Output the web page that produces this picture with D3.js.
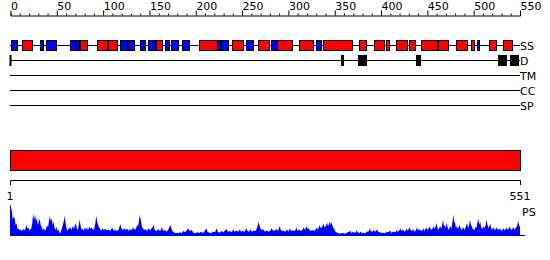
<!DOCTYPE html>
<html><head><meta charset="utf-8">
<script src="https://cdn.jsdelivr.net/npm/d3@7"></script>
<style>body{margin:0;background:#fff}svg{display:block}text{font-family:"DejaVu Sans",sans-serif;font-size:11px;fill:#000}</style>
</head><body><svg id="c" width="550" height="260"></svg>
<script>
const seqLength = 551;
const axisTicks = d3.range(0, 551, 10);
const axisLabels = [0, 50, 100, 150, 200, 250, 300, 350, 400, 450, 500, 550];
// secondary structure: [start, end, type] (H = helix red, E = strand blue)
const ssStart = [2,14,33,40,66,72,77,95,107,120,128,141,150,158,168,175,186,205,224,229,240,256,268,283,289,313,331,339,377,394,406,417,431,444,463,482,498,505,518,533];
const ssEnd   = [9,25,37,51,72,75,84,106,116,127,135,147,157,165,172,182,194,224,227,236,252,263,280,289,305,328,336,370,385,404,410,429,438,461,473,494,501,507,525,542];
const ssType  = ["E","H","E","E","E","E","H","H","H","E","E","E","E","H","E","E","E","H","E","E","H","E","H","E","H","H","E","H","H","H","H","H","H","H","H","H","H","E","H","H"];
// disorder segments
const disStart = [358,376,439,527,540];
const disEnd   = [361,386,444,537,550];
const trackNames = ["SS","D","TM","CC","SP"];
// PS profile: [residue, score]
const psProfile = [[1,92],[2,85],[3,70],[4,45],[5,55],[6,50],[7,30],[8,35],[9,18],[10,20],[11,14],[12,17],[14,12],[15,18],[17,14],[18,22],[19,30],[20,18],[21,22],[22,14],[24,20],[25,35],[26,63],[27,45],[28,60],[29,40],[30,52],[31,30],[33,48],[34,30],[35,25],[36,15],[37,20],[39,12],[41,30],[42,22],[43,40],[44,57],[45,40],[46,50],[47,30],[48,40],[49,22],[50,15],[51,25],[52,12],[53,18],[54,8],[55,5],[56,12],[57,20],[58,30],[59,40],[60,57],[61,35],[62,20],[63,12],[64,18],[66,23],[67,15],[69,27],[70,18],[71,28],[72,35],[73,20],[74,15],[75,25],[76,45],[77,30],[78,15],[79,20],[80,12],[82,22],[83,15],[84,23],[85,14],[87,25],[88,18],[89,22],[91,15],[92,20],[93,35],[94,57],[95,40],[96,30],[97,22],[98,20],[99,12],[101,20],[102,15],[104,18],[105,14],[107,16],[109,12],[110,18],[112,20],[113,12],[115,16],[116,12],[118,15],[120,33],[121,20],[123,15],[124,20],[126,14],[127,20],[129,12],[130,17],[132,14],[134,23],[135,15],[137,20],[138,30],[139,25],[140,40],[141,60],[142,45],[143,30],[144,20],[146,15],[147,18],[149,12],[150,20],[152,15],[154,20],[156,30],[157,15],[159,12],[161,17],[163,12],[165,23],[166,12],[168,15],[170,10],[172,18],[174,30],[175,20],[176,12],[177,10],[179,6],[181,7],[183,5],[184,8],[186,6],[188,12],[190,8],[192,15],[193,20],[195,12],[197,15],[199,6],[201,5],[203,8],[205,6],[207,10],[209,6],[211,12],[213,20],[214,10],[216,7],[218,5],[220,10],[222,8],[224,20],[225,10],[227,7],[229,12],[231,8],[233,14],[235,17],[236,9],[238,12],[240,8],[242,17],[243,10],[245,13],[247,10],[249,17],[250,10],[252,12],[254,10],[256,20],[257,12],[259,10],[260,17],[262,10],[264,13],[266,12],[268,25],[269,40],[270,28],[271,20],[272,15],[274,17],[276,10],[278,13],[280,10],[282,14],[283,20],[285,12],[287,15],[289,17],[290,12],[292,27],[293,15],[295,12],[296,13],[298,10],[300,17],[301,10],[303,20],[304,12],[306,14],[307,12],[309,15],[310,23],[311,12],[313,17],[314,12],[316,14],[318,23],[319,15],[321,27],[322,18],[323,20],[325,12],[327,15],[329,12],[331,18],[332,23],[333,15],[335,30],[336,20],[338,25],[339,35],[340,22],[342,28],[343,37],[344,25],[346,40],[347,30],[348,37],[349,25],[350,20],[352,10],[353,8],[355,5],[357,4],[359,6],[361,5],[363,4],[365,8],[367,10],[368,13],[369,6],[371,10],[373,6],[375,13],[376,8],[378,6],[379,10],[381,5],[382,7],[384,5],[386,10],[388,12],[389,20],[390,12],[392,10],[393,15],[395,10],[397,17],[398,10],[400,8],[402,6],[404,7],[406,5],[407,10],[409,8],[411,13],[412,7],[414,9],[415,10],[417,8],[418,15],[419,10],[421,14],[422,20],[423,12],[425,17],[426,10],[428,14],[429,20],[430,12],[432,23],[433,15],[434,12],[436,17],[437,10],[439,15],[440,23],[441,14],[443,17],[444,12],[446,15],[447,20],[448,12],[450,23],[451,15],[452,18],[454,25],[455,15],[457,20],[458,27],[459,18],[460,25],[461,35],[462,20],[463,15],[465,27],[466,18],[467,30],[468,45],[469,25],[470,30],[471,20],[472,37],[473,22],[474,15],[476,27],[477,18],[478,35],[479,60],[480,40],[481,35],[482,20],[483,27],[484,18],[486,30],[487,20],[488,15],[490,23],[491,15],[492,20],[493,28],[494,35],[495,20],[496,30],[497,45],[498,30],[499,27],[500,18],[502,15],[503,25],[504,20],[505,35],[506,50],[507,30],[508,40],[509,25],[510,18],[512,25],[513,20],[514,30],[515,47],[516,30],[517,20],[519,33],[520,20],[521,15],[522,23],[524,15],[526,23],[527,15],[528,18],[530,17],[531,12],[533,20],[534,15],[536,18],[537,23],[538,15],[540,25],[541,18],[542,15],[544,23],[545,15],[546,20],[547,22],[548,27],[549,42],[550,30],[551,23]];

const svg = d3.select("#c");
const x = d3.scaleLinear().domain([1, seqLength]).range([10, 520]);
const xa = d3.scaleLinear().domain([0, 550]).range([10.5, 520]);

// top axis
const ax = svg.append("g").attr("transform", "translate(0,15.5)")
  .call(d3.axisTop(xa).tickValues(axisTicks).tickSizeOuter(0).tickSize(2).tickFormat(""));
ax.selectAll(".tick line").attr("y2", d => axisLabels.includes(d) ? -5 : -2).attr("stroke", "#000");
ax.select(".domain").attr("stroke", "#000");
ax.selectAll(".tick").filter(d => axisLabels.includes(d)).append("text")
  .attr("x", 0).attr("y", -5.5).attr("text-anchor", "start").text(d => d)
  .style("fill", "#000").style("font-size", "11px").style("font-family", "DejaVu Sans");

// track lines
const trackY = [45.5, 60.5, 75.5, 90.5, 105.5];
svg.selectAll("line.track").data(trackNames).enter().append("line")
  .attr("x1", 10).attr("x2", 520).attr("y1", (d,i) => trackY[i]).attr("y2", (d,i) => trackY[i])
  .attr("stroke", "#000");
svg.selectAll("text.tl").data(trackNames).enter().append("text")
  .attr("x", 520).attr("y", (d,i) => trackY[i] + 4).text(d => d);

// SS boxes
const ss = ssStart.map((s,i) => ({s, e: ssEnd[i], t: ssType[i]}));
svg.selectAll("rect.ss").data(ss).enter().append("rect")
  .attr("x", d => Math.round(x(d.s)) + 0.5).attr("y", 40.5)
  .attr("width", d => Math.max(1, Math.round(x(d.e)) - Math.round(x(d.s))))
  .attr("height", 10)
  .attr("fill", d => d.t === "H" ? "#ff0000" : "#0000ff").attr("stroke", "#000");

// disorder
svg.append("line").attr("x1", 10.5).attr("x2", 10.5).attr("y1", 55).attr("y2", 66).attr("stroke", "#000").attr("stroke-width", 2);
const dis = disStart.map((s,i) => ({s, e: disEnd[i]}));
svg.selectAll("rect.dis").data(dis).enter().append("rect")
  .attr("x", d => Math.round(x(d.s))).attr("y", 55)
  .attr("width", d => Math.round(x(d.e)) - Math.round(x(d.s))).attr("height", 11)
  .attr("fill", "#000");

// big red bar
svg.append("rect").attr("x", x(1) + 0.5).attr("y", 150.5).attr("width", x(seqLength) - x(1)).attr("height", 20)
  .attr("fill", "#ff0000").attr("stroke", "#000");
// bracket
svg.append("path").attr("d", `M${x(1)+0.5},185V180.5H${x(seqLength)+0.5}V185`).attr("fill", "none").attr("stroke", "#000");
svg.append("text").attr("x", x(1)).attr("y", 200).attr("text-anchor", "middle").text("1");
svg.append("text").attr("x", x(seqLength)).attr("y", 200).attr("text-anchor", "middle").text(String(seqLength));
svg.append("text").attr("x", 522).attr("y", 216).text("PS");

// PS area
const y = d3.scaleLinear().domain([0, 92]).range([235, 204]);
svg.append("path").datum(psProfile)
  .attr("d", d3.area().x(d => x(d[0])).y0(235).y1(d => y(d[1])))
  .attr("fill", "#0000ff");
svg.append("line").attr("x1", 10).attr("x2", 525).attr("y1", 235.5).attr("y2", 235.5).attr("stroke", "#0000ff");
</script></body></html>
